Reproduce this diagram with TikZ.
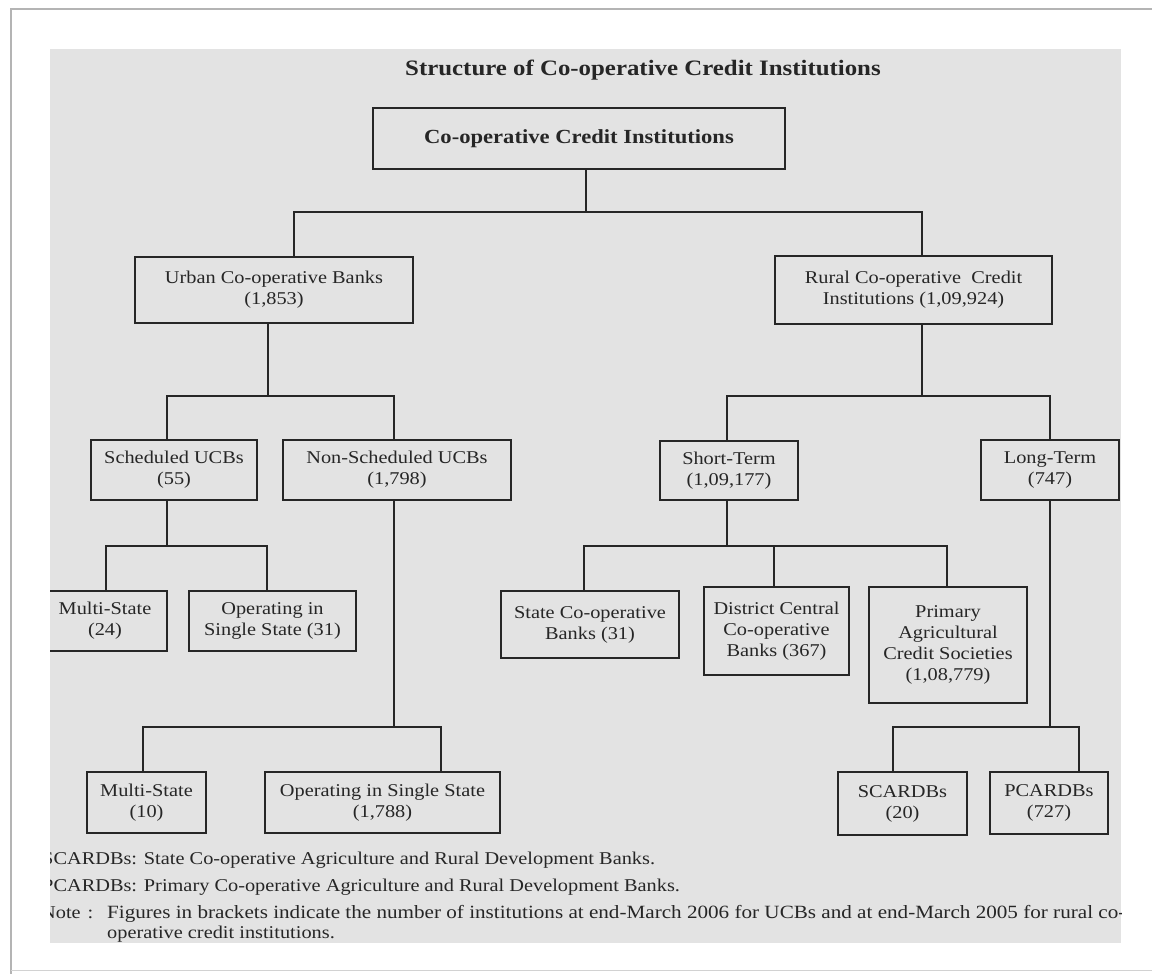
\documentclass[tikz,border=0pt]{standalone}
\usepackage{fontspec}
\setmainfont{Liberation Serif}[FakeStretch=1.13]
\definecolor{ink}{HTML}{262626}
\definecolor{panel}{HTML}{E3E3E3}
\definecolor{edge}{HTML}{B4B4B4}
\begin{document}
\begin{tikzpicture}[x=1pt,y=-1pt,
  box/.style={draw=ink, line width=2.2pt, align=center, inner sep=0pt, text=ink,
    font=\fontsize{18}{21}\selectfont},
  conn/.style={draw=ink, line width=1.8pt},
  foot/.style={anchor=base west, inner sep=0pt, text=ink, font=\fontsize{18}{21}\selectfont}]
\useasboundingbox (0,0) rectangle (1152,974);
\fill[white] (0,0) rectangle (1152,974);
% page edge
\draw[edge, line width=1.4pt] (11,974) -- (11,9) -- (1152,9);
\draw[edge!60, line width=1pt] (11,970) -- (1152,970);
% grey panel
\fill[panel] (50,49) rectangle (1121,943);
\begin{scope}
\clip (50,49) rectangle (1121,943);

\node[font=\bfseries\fontsize{22}{26}\selectfont, text=ink, inner sep=0pt] (title) at (643,70)
  {Structure of Co-operative Credit Institutions};

% boxes
\node[box, font=\bfseries\fontsize{20}{24}\selectfont, minimum width=412, minimum height=61] (top) at (579,138.5)
  {Co-operative Credit Institutions};
\node[box, minimum width=278, minimum height=66] (urban) at (274,290) {Urban Co-operative Banks\\(1,853)};
\node[box, minimum width=277, minimum height=68] (rural) at (913.5,290) {Rural Co-operative\ \ Credit\\Institutions (1,09,924)};

\node[box, minimum width=166, minimum height=60] (sched) at (174,470) {Scheduled UCBs\\(55)};
\node[box, minimum width=228, minimum height=60] (nonsched) at (397,470) {Non-Scheduled UCBs\\(1,798)};
\node[box, minimum width=138, minimum height=59] (short) at (729,470.5) {Short-Term\\(1,09,177)};
\node[box, minimum width=138, minimum height=60] (long) at (1050,470) {Long-Term\\(747)};

\node[box, minimum width=124, minimum height=60] (ms24) at (105,621) {Multi-State\\(24)};
\node[box, minimum width=167, minimum height=60] (os31) at (272.5,621) {Operating in\\Single State (31)};

\node[box, minimum width=178, minimum height=67] (scb) at (590,624.5) {State Co-operative\\Banks (31)};
\node[box, minimum width=145, minimum height=88] (dccb) at (776.5,631) {District Central\\Co-operative\\Banks (367)};
\node[box, minimum width=158, minimum height=116] (pacs) at (948,645) {Primary\\Agricultural\\Credit Societies\\(1,08,779)};

\node[box, minimum width=119, minimum height=61] (ms10) at (146.5,802.5) {Multi-State\\(10)};
\node[box, minimum width=235, minimum height=61] (os1788) at (382.5,802.5) {Operating in Single State\\(1,788)};
\node[box, minimum width=129, minimum height=63] (scardb) at (902.5,803.5) {SCARDBs\\(20)};
\node[box, minimum width=118, minimum height=62] (pcardb) at (1049,803) {PCARDBs\\(727)};

% branch points
\coordinate (r0) at (586,212);
\coordinate (u1) at (268,396);
\coordinate (q1) at (922,396);
\coordinate (s1) at (167,546);
\coordinate (t1) at (727,546);
\coordinate (n1) at (394,727);
\coordinate (l1) at (1050,727);

% connectors
\draw[conn] ([xshift=7]top.south) -- (r0);
\draw[conn] (r0) -| ([xshift=20]urban.north);
\draw[conn] (r0) -| ([xshift=8.5]rural.north);

\draw[conn] ([xshift=-6]urban.south) -- (u1);
\draw[conn] (u1) -| ([xshift=-7]sched.north);
\draw[conn] (u1) -| ([xshift=-3]nonsched.north);

\draw[conn] ([xshift=8.5]rural.south) -- (q1);
\draw[conn] (q1) -| ([xshift=-2]short.north);
\draw[conn] (q1) -| (long.north);

\draw[conn] ([xshift=-7]sched.south) -- (s1);
\draw[conn] (s1) -| ([xshift=1]ms24.north);
\draw[conn] (s1) -| ([xshift=-5.5]os31.north);

\draw[conn] ([xshift=-2]short.south) -- (t1);
\draw[conn] (t1) -| ([xshift=-6]scb.north);
\draw[conn] (t1) -| ([xshift=-2.5]dccb.north);
\draw[conn] (t1) -| ([xshift=-1]pacs.north);

\draw[conn] ([xshift=-3]nonsched.south) -- (n1);
\draw[conn] (n1) -| ([xshift=-3.5]ms10.north);
\draw[conn] (n1) -| ([xshift=58.5]os1788.north);

\draw[conn] (long.south) -- (l1);
\draw[conn] (l1) -| ([xshift=-9.5]scardb.north);
\draw[conn] (l1) -| ([xshift=30]pcardb.north);

% footnotes
\node[foot] (fn1) at (42,864) {SCARDBs: State Co-operative Agriculture and Rural Development Banks.};
\node[foot] (fn2) at (42,891) {PCARDBs: Primary Co-operative Agriculture and Rural Development Banks.};
\node[foot] (note) at (41,918) {Note\hspace{7pt}:};
\node[foot, font=\fontsize{18.7}{21}\selectfont] (note1) at (107,918) {Figures in brackets indicate the number of institutions at end-March 2006 for UCBs and at end-March 2005 for rural co-};
\node[foot] (note2) at (107,938) {operative credit institutions.};
\end{scope}
\end{tikzpicture}
\end{document}
